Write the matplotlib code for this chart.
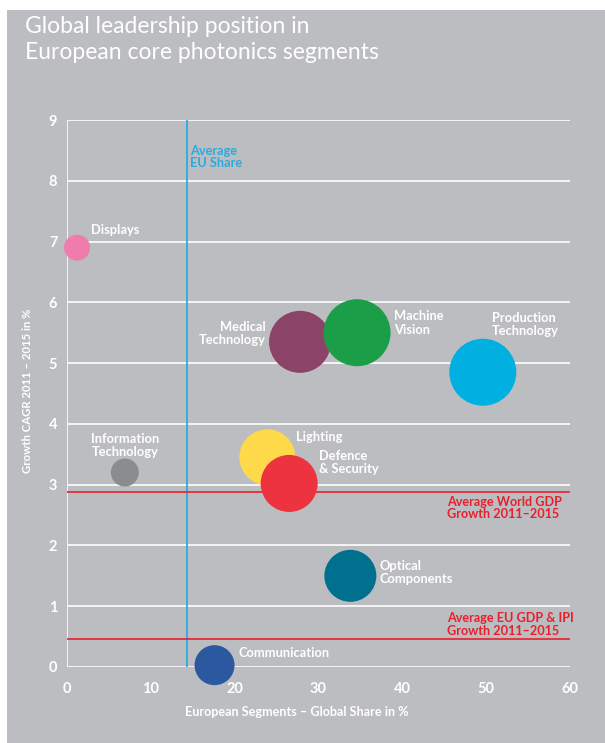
import numpy as np
import matplotlib
matplotlib.use("Agg")
import matplotlib.pyplot as plt
from matplotlib.patches import Rectangle

plt.rcParams['font.family'] = ['Lato', 'DejaVu Sans']

# segment data
segments = ["Displays", "Medical\nTechnology", "Machine\nVision", "Production\nTechnology",
            "Lighting", "Defence\n& Security", "Information\nTechnology",
            "Optical\nComponents", "Communication"]
global_share = [1.2, 27.8, 34.6, 49.6, 23.9, 26.5, 6.9, 33.8, 17.6]
cagr = [6.9, 5.35, 5.5, 4.85, 3.45, 3.02, 3.2, 1.5, 0.03]
bubble_size = [13, 31, 33.5, 33.5, 28, 28.5, 14, 26, 20]
colors = ["#f07cab", "#8b4468", "#1a9f48", "#00b0e0", "#fed94a", "#ee3340",
          "#8b8c8f", "#00708f", "#2c58a0"]

avg_eu_share = 14.3
world_gdp = 2.88
eu_gdp = 0.46

x_ticks = [0, 10, 20, 30, 40, 50, 60]
y_ticks = [0, 1, 2, 3, 4, 5, 6, 7, 8, 9]

grey = "#bcbdc0"
red = "#e8202e"
blue = "#29abe2"

fig = plt.figure(figsize=(6.05, 7.43), dpi=100)
fig.patch.set_facecolor("white")
fig.patches.append(Rectangle((7/605, 0), 1, 1 - 10/743, transform=fig.transFigure,
                             facecolor=grey, edgecolor="none", zorder=-5))

fig.text(25/605, 1 - 16/743, "Global leadership position in\nEuropean core photonics segments",
         color="white", fontsize=16.5, va="top", ha="left", linespacing=1.32)

ax = fig.add_axes([67/605, 76/743, 503/605, 547/743])
ax.set_facecolor("none")
ax.set_xlim(0, 60)
ax.set_ylim(0, 9)
for s in ax.spines.values():
    s.set_visible(False)

# grid
for yv in y_ticks:
    ax.plot([0, 60], [yv, yv], color="white", lw=1.2, zorder=1)
ax.plot([0, 0], [0, 9], color="white", lw=1.2, zorder=1)

# reference lines
ax.plot([avg_eu_share, avg_eu_share], [0, 9], color=blue, lw=1.3, zorder=2)
ax.plot([0, 60], [world_gdp, world_gdp], color=red, lw=1.2, zorder=2)
ax.plot([0, 60], [eu_gdp, eu_gdp], color=red, lw=1.2, zorder=2)

ax.text(avg_eu_share + 0.4, 8.39, "Average\nEU Share", color=blue, fontsize=9.2,
        fontweight="bold", va="center", ha="left", linespacing=0.95)
ax.text(45.3, 2.61, "Average World GDP\nGrowth 2011\u20132015", color=red, fontsize=9.1,
        fontweight="bold", va="center", ha="left", linespacing=1.02)
ax.text(45.3, 0.70, "Average EU GDP & IPI\nGrowth 2011\u20132015", color=red, fontsize=9.1,
        fontweight="bold", va="center", ha="left", linespacing=1.02)

# bubbles
sizes = [(2 * r * 0.72) ** 2 for r in bubble_size]
ax.scatter(global_share, cagr, s=sizes, c=colors, edgecolors="none", zorder=3, clip_on=False)

# label anchors in data units
label_pos = {
    "Displays": (2.9, 7.19, "left"),
    "Medical\nTechnology": (23.7, 5.49, "right"),
    "Machine\nVision": (39.0, 5.66, "left"),
    "Production\nTechnology": (50.7, 5.64, "left"),
    "Lighting": (27.3, 3.78, "left"),
    "Defence\n& Security": (30.1, 3.36, "left"),
    "Information\nTechnology": (6.9, 3.64, "center"),
    "Optical\nComponents": (37.3, 1.56, "left"),
    "Communication": (20.5, 0.23, "left"),
}
for name in segments:
    lx, ly, ha = label_pos[name]
    ax.text(lx, ly, name, color="white", fontsize=9.3, fontweight="bold",
            ha=ha, va="center", linespacing=1.12, zorder=4)

ax.set_xticks(x_ticks)
ax.set_yticks(y_ticks)
ax.tick_params(length=0, labelcolor="white", labelsize=10.5, pad=11)
ax.tick_params(axis="y", pad=7)
for lab in ax.get_xticklabels() + ax.get_yticklabels():
    lab.set_fontweight("bold")

ax.set_xlabel("European Segments \u2013 Global Share in %", color="white", fontsize=9.1,
              fontweight="bold")
ax.xaxis.set_label_coords(0.457, -0.072)
ax.set_ylabel("Growth CAGR 2011 \u2013 2015 in %", color="white", fontsize=8.2,
              fontweight="bold")
ax.yaxis.set_label_coords(-0.067, 0.505)

fig.savefig("out.png", dpi=100)
